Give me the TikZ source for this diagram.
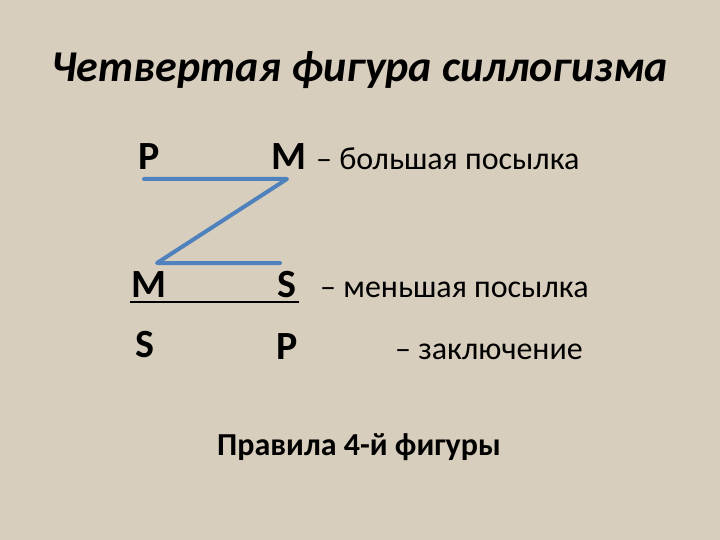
\documentclass[tikz,border=0pt]{standalone}
\usepackage{fontspec}
\setmainfont{Carlito}
\definecolor{bg}{RGB}{216,206,189}
\definecolor{zblue}{RGB}{79,129,189}
\tikzset{
  letter/.style={anchor=base west, inner sep=0pt, font=\fontsize{40}{44}\selectfont\bfseries},
  desc/.style={anchor=base west, inner sep=0pt, font=\fontsize{32}{36}\selectfont},
  zline/.style={draw=zblue, line width=4pt, line cap=round, line join=round}
}
\begin{document}
\begin{tikzpicture}[x=1pt,y=-1pt]
\fill[bg] (0,0) rectangle (720,540);
\useasboundingbox (0,0) rectangle (720,540);
\node[anchor=base, inner sep=0pt, font=\fontsize{44}{48}\selectfont\bfseries\itshape] (title) at (360,82) {Четвертая фигура силлогизма};
\node[letter] (p1) at (138,170) {P};
\node[letter] (m1) at (271,170) {M};
\node[desc] (d1) at (316,170) {– большая посылка};
\node[letter] (m2) at (131,297) {M};
\node[letter] (s2) at (277,297) {S};
\node[desc] (d2) at (320,297) {– меньшая посылка};
\node[letter] (s3) at (135,357) {S};
\node[letter] (p3) at (276,359) {P};
\node[desc] (d3) at (395,359) {– заключение};
\node[anchor=base, inner sep=0pt, font=\fontsize{32}{36}\selectfont\bfseries] (rules) at (359,455) {Правила 4-й фигуры};
\coordinate (a) at (144,179);
\coordinate (b) at (287,179);
\coordinate (c) at (157,263);
\coordinate (d) at (280,263);
\draw[zline] (a) -- (b) -- (c) -- (d);
\coordinate (u1) at (130,302);
\coordinate (u2) at (299,302);
\draw[line width=2.2pt] (u1) -- (u2);
\end{tikzpicture}
\end{document}
